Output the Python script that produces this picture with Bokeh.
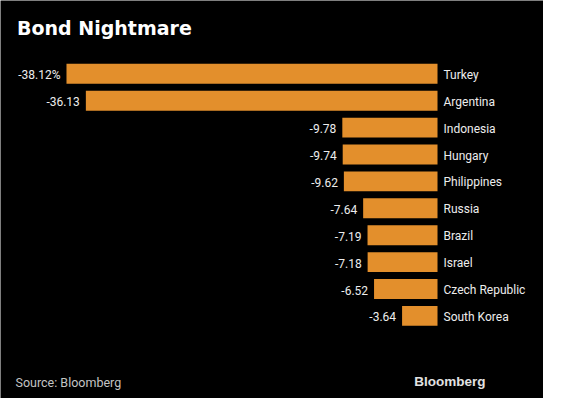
from bokeh.plotting import figure
from bokeh.models import ColumnDataSource, Range1d, Label
from bokeh.core.properties import value
from bokeh.embed import file_html
from bokeh.resources import INLINE

countries = ["Turkey", "Argentina", "Indonesia", "Hungary", "Philippines",
             "Russia", "Brazil", "Israel", "Czech Republic", "South Korea"]
values = [-38.12, -36.13, -9.78, -9.74, -9.62, -7.64, -7.19, -7.18, -6.52, -3.64]
value_labels = ["-38.12%"] + [f"{v:.2f}" for v in values[1:]]

title_text = "Bond Nightmare"
source_text = "Source: Bloomberg"
brand_text = "Bloomberg"

BAR = "#E38F2C"
TXT = "#EDEDED"
LBL_FONT = value("Roboto")

src = ColumnDataSource(dict(
    y=list(range(len(countries))),
    v=values,
    zero=[0] * len(values),
    country=countries,
    vlab=value_labels,
))

p = figure(width=543, height=398,
           x_range=Range1d(-44.90, 10.89), y_range=Range1d(12.07, -2.725),
           x_axis_type=None, y_axis_type=None,
           output_backend="svg", toolbar_location=None, min_border=0)
p.background_fill_color = "black"
p.border_fill_color = "black"
p.outline_line_color = None
p.grid.visible = False

p.hbar(y="y", left="v", right="zero", height=0.74, source=src,
       fill_color=BAR, line_color=None)

p.text(x="v", y="y", text="vlab", source=src, x_offset=-6, y_offset=1,
       text_align="right", text_baseline="middle",
       text_font=LBL_FONT, text_font_size="12px", text_color=TXT)
p.text(x="zero", y="y", text="country", source=src, x_offset=6, y_offset=1,
       text_align="left", text_baseline="middle",
       text_font=LBL_FONT, text_font_size="12px", text_color=TXT)

p.add_layout(Label(x=16.5, y=371, x_units="screen", y_units="screen",
                   text=title_text, text_font="DejaVu Sans", text_font_style="bold",
                   text_font_size="19px", text_color="white",
                   text_baseline="alphabetic"))
p.add_layout(Label(x=15, y=16, x_units="screen", y_units="screen",
                   text=source_text, text_font="Roboto",
                   text_font_size="12.5px", text_color="#C4C4C4",
                   text_baseline="alphabetic"))
p.add_layout(Label(x=485, y=17.5, x_units="screen", y_units="screen",
                   text=brand_text, text_font="Liberation Sans", text_font_style="bold",
                   text_font_size="13.5px", text_color="#E2E2E2",
                   text_align="right", text_baseline="alphabetic"))

open("out.html", "w").write(file_html(p, INLINE))
